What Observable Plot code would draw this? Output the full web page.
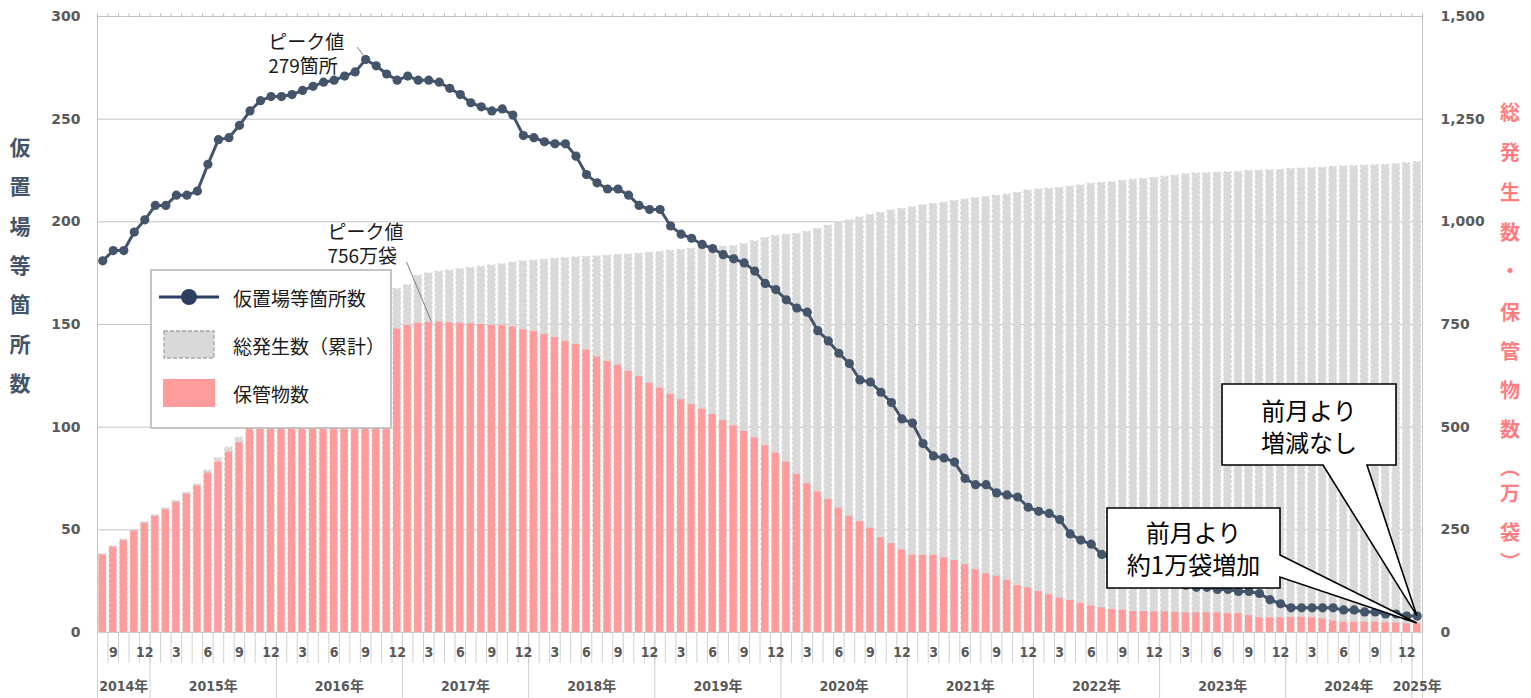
<!DOCTYPE html>
<html><head><meta charset="utf-8">
<script src="https://cdn.jsdelivr.net/npm/d3@7"></script>
<script src="https://cdn.jsdelivr.net/npm/@observablehq/plot@0.6"></script>
<style>
body{margin:0;background:#fff;}
#chart{position:relative;width:1531px;height:698px;overflow:hidden;}
</style></head><body><div id="chart"></div>
<script>
// Months: Aug 2014 .. Jan 2025 (126 months)
const startYear = 2014, startMonth = 8;

// 仮置場等箇所数 (left axis)
const sites = [
181,186,186,195,201,208,208,213,213,215,
228,240,241,247,254,259,261,261,262,264,
266,268,269,271,273,279,276,272,269,271,
269,269,268,265,262,258,256,254,255,252,
242,241,239,238,238,232,223,219,216,216,
213,208,206,206,198,194,192,189,187,184,
182,180,176,170,167,162,158,156,147,142,
136,131,123,122,117,112,104,102,92,86,
85,83,75,72,72,68,67,66,61,59,
58,55,48,45,43,38,36,34,31,29,
27,25,24,23,22,22,21,21,20,20,
19,16,14,12,12,12,12,12,11,11,
10,10,9,9,8,8];

// 保管物数 (万袋, right axis)
const stored = [
189,208,224,247,266,283,299,317,337,357,
388,415,439,462,505,530,556,580,604,626,
647,666,684,699,712,722,730,735,739,748,
753,755,756,754,753,752,750,748,748,744,
737,733,726,718,709,701,688,671,660,651,
636,623,607,595,580,567,555,544,531,516,
503,490,474,455,437,415,385,362,342,324,
303,283,270,254,231,216,201,188,188,188,
182,175,165,153,143,137,127,114,109,100,
92,84,78,71,65,60,56,54,51,51,
50,50,49,48,48,48,48,46,46,41,
36,36,36,37,37,36,33,28,25,25,
25,25,24,23,21,22];

// 総発生数（累計） (万袋, right axis)
const total = [
190,209,226,249,268,285,302,320,340,360,
394,424,450,474,520,548,575,603,630,655,
680,703,725,745,765,785,805,822,836,845,
868,874,878,881,884,887,890,893,896,900,
903,905,907,909,911,913,914,915,917,919,
920,922,924,926,929,931,934,936,938,939,
940,945,952,960,965,968,970,975,982,990,
998,1003,1010,1016,1021,1027,1031,1035,1040,1043,
1046,1050,1054,1057,1060,1063,1066,1070,1076,1078,
1080,1082,1085,1088,1092,1094,1096,1099,1102,1104,
1106,1109,1112,1115,1117,1118,1119,1120,1121,1123,
1124,1125,1126,1128,1129,1130,1131,1133,1134,1135,
1136,1137,1138,1140,1142,1145];

const leftTicks = [0,50,100,150,200,250,300];
const labeledMonths = [3,6,9,12];
const leftTitle = ["仮","置","場","等","箇","所","数"];
const rightTitle = ["総","発","生","数","・","保","管","物","数","︵","万","袋","︶"];
const seriesNames = ["仮置場等箇所数","総発生数（累計）","保管物数"];

// ---- build table ----
const data = sites.map((s,i) => {
  const k = startMonth - 1 + i;
  return {i, year: startYear + Math.floor(k/12), month: (k % 12) + 1, sites: s, stored: stored[i], total: total[i]};
});
const n = data.length;
const boundaries = d3.range(-0.5, n, 1);
const yearStarts = data.filter(d => d.month === 1).map(d => d.i - 0.5);
const yearBounds = [-0.5, ...yearStarts, n - 0.5];
const monthLabels = data.filter(d => labeledMonths.includes(d.month)).map(d => ({i: d.i, label: String(d.month)}));
const yearLabels = d3.groups(data, d => d.year).map(([y, arr]) => ({c: d3.mean(arr, d => d.i), label: y + "年"}));

const numFont = "'DejaVu Sans', sans-serif";
const narrowFont = "'Liberation Sans Narrow','DejaVu Sans Condensed','Noto Sans CJK JP',sans-serif";
const half = 0.34;

const plot = Plot.plot({
  width: 1531, height: 698,
  marginLeft: 97, marginRight: 109, marginTop: 16, marginBottom: 66,
  x: {type: "linear", domain: [-0.5, n - 0.5], label: null},
  y: {domain: [0, 300], label: null},
  style: {fontFamily: "'Noto Sans CJK JP', sans-serif", background: "#fff", overflow: "visible"},
  marks: [
    Plot.ruleY(leftTicks, {stroke: "#c4c4c4", strokeWidth: 1}),
    Plot.rect(data, {x1: d => d.i - half, x2: d => d.i + half, y1: 0, y2: d => d.total / 5,
      fill: "#d9d9d9", stroke: "#d9d9d9", strokeWidth: 1.4, strokeDasharray: "3,2"}),
    Plot.rect(data, {x1: d => d.i - half, x2: d => d.i + half, y1: 0, y2: d => d.stored / 5, fill: "#ff9b9b"}),
    Plot.ruleX([-0.5, n - 0.5], {stroke: "#c4c4c4", strokeWidth: 1}),
    Plot.line(data, {x: "i", y: "sites", stroke: "#44546a", strokeWidth: 3}),
    Plot.dot(data, {x: "i", y: "sites", r: 4.6, fill: "#44546a"}),
    Plot.axisY({anchor: "left", ticks: leftTicks, tickSize: 0, tickPadding: 17, label: null,
      fontSize: 14, fontWeight: "bold", fontFamily: numFont, fill: "#595959"}),
    Plot.axisY({anchor: "right", ticks: leftTicks, tickSize: 0, tickPadding: 18, label: null,
      tickFormat: d => d3.format(",")(d * 5),
      fontSize: 14, fontWeight: "bold", fontFamily: numFont, fill: "#595959"}),
    Plot.axisX({anchor: "top", ticks: boundaries, tickSize: 4, tickFormat: () => "", label: null, stroke: "#bfbfbf"}),
    Plot.axisX({anchor: "bottom", ticks: boundaries, tickSize: 31, tickFormat: () => "", label: null, stroke: "#d0d0d0"}),
    Plot.axisX({anchor: "bottom", ticks: yearBounds, tickSize: 66, tickFormat: () => "", label: null, stroke: "#d0d0d0"}),
    Plot.text(monthLabels, {x: "i", text: "label", frameAnchor: "bottom", dy: 20, lineAnchor: "middle",
      fontSize: 14, fontWeight: "bold", fontFamily: narrowFont, fill: "#595959"}),
    Plot.text(yearLabels, {x: "c", text: "label", frameAnchor: "bottom", dy: 54, lineAnchor: "middle",
      fontSize: 14, fontWeight: "bold", fontFamily: narrowFont, fill: "#595959"})
  ]
});
document.getElementById("chart").appendChild(plot);

const xs = plot.scale("x"), ys = plot.scale("y");
const svg = d3.select(plot);
const g = svg.append("g").attr("font-family", "'Noto Sans CJK JP', sans-serif").attr("text-anchor", "start");

// axis titles
leftTitle.forEach((ch, k) => {
  g.append("text").attr("x", 20).attr("y", 146 + k * 39.3).attr("text-anchor", "middle")
    .attr("dominant-baseline", "central").attr("font-size", 21).attr("font-weight", "bold")
    .attr("fill", "#44546a").text(ch);
});
const rightY = [111,151,191,231,269,311,350,389,428,466,492,531,561];
rightTitle.forEach((ch, k) => {
  g.append("text").attr("x", 1510).attr("y", rightY[k]).attr("text-anchor", "middle")
    .attr("dominant-baseline", "central").attr("font-size", 20).attr("font-weight", "bold")
    .attr("fill", "#ff7c80").text(ch);
});

// peak annotations
const pk1 = d3.maxIndex(sites), pk2 = d3.maxIndex(stored);
const p1x = xs.apply(pk1), p1y = ys.apply(sites[pk1]);
g.append("line").attr("x1", p1x - 8).attr("y1", p1y - 12).attr("x2", p1x - 1).attr("y2", p1y - 3)
  .attr("stroke", "#7f7f7f").attr("stroke-width", 1);
[["ピーク値", 40], [sites[pk1] + "箇所", 64]].forEach(([t, y]) => {
  g.append("text").attr("x", p1x - 97).attr("y", y).attr("text-anchor", "start").attr("dominant-baseline", "central")
    .attr("font-size", 19).attr("fill", "#1a1a1a").text(t);
});
const p2x = xs.apply(pk2 - 0.7), p2y = ys.apply(stored[pk2] / 5);
g.append("line").attr("x1", p2x - 25).attr("y1", p2y - 60).attr("x2", p2x).attr("y2", p2y)
  .attr("stroke", "#7f7f7f").attr("stroke-width", 1);
[["ピーク値", 230], [stored[pk2] + "万袋", 254]].forEach(([t, y]) => {
  g.append("text").attr("x", p2x - 104).attr("y", y).attr("text-anchor", "start").attr("dominant-baseline", "central")
    .attr("font-size", 19).attr("fill", "#1a1a1a").text(t);
});

// callouts
const last = n - 1;
const t1x = xs.apply(last), t1y = ys.apply(sites[last]);
const t2x = xs.apply(last), t2y = ys.apply(stored[last] / 5);
function callout(path, cx, lines, y0) {
  g.append("path").attr("d", path).attr("fill", "#fff").attr("stroke", "#000").attr("stroke-width", 1.6)
    .attr("stroke-linejoin", "miter");
  lines.forEach((t, k) => {
    g.append("text").attr("x", cx).attr("y", y0 + k * 32).attr("text-anchor", "middle")
      .attr("dominant-baseline", "central").attr("font-size", 24).attr("fill", "#000").text(t);
  });
}
callout(`M1222,384H1396V465H1367L${t1x},${t1y}L1323,465H1222Z`, 1309, ["前月より", "増減なし"], 409);
callout(`M1107,508H1280V555L${t2x},${t2y}L1280,577V588H1107Z`, 1193.5, ["前月より", "約1万袋増加"], 531);

// legend
const lg = g.append("g");
lg.append("rect").attr("x", 151).attr("y", 270).attr("width", 240).attr("height", 158)
  .attr("fill", "#fff").attr("stroke", "#bfbfbf").attr("stroke-width", 1.8);
lg.append("line").attr("x1", 159).attr("x2", 219).attr("y1", 297).attr("y2", 297)
  .attr("stroke", "#2c3f63").attr("stroke-width", 3);
lg.append("circle").attr("cx", 189).attr("cy", 297).attr("r", 8).attr("fill", "#2c3f63");
lg.append("rect").attr("x", 164).attr("y", 331).attr("width", 50).attr("height", 27)
  .attr("fill", "#d9d9d9").attr("stroke", "#a6a6a6").attr("stroke-width", 1.3).attr("stroke-dasharray", "4,2");
lg.append("rect").attr("x", 163).attr("y", 379).attr("width", 52).attr("height", 28).attr("fill", "#ff9b9b");
seriesNames.forEach((t, k) => {
  lg.append("text").attr("x", 233).attr("y", 297 + k * 48).attr("text-anchor", "start").attr("dominant-baseline", "central")
    .attr("font-size", 19).attr("fill", "#1a1a1a").text(t);
});
</script></body></html>
